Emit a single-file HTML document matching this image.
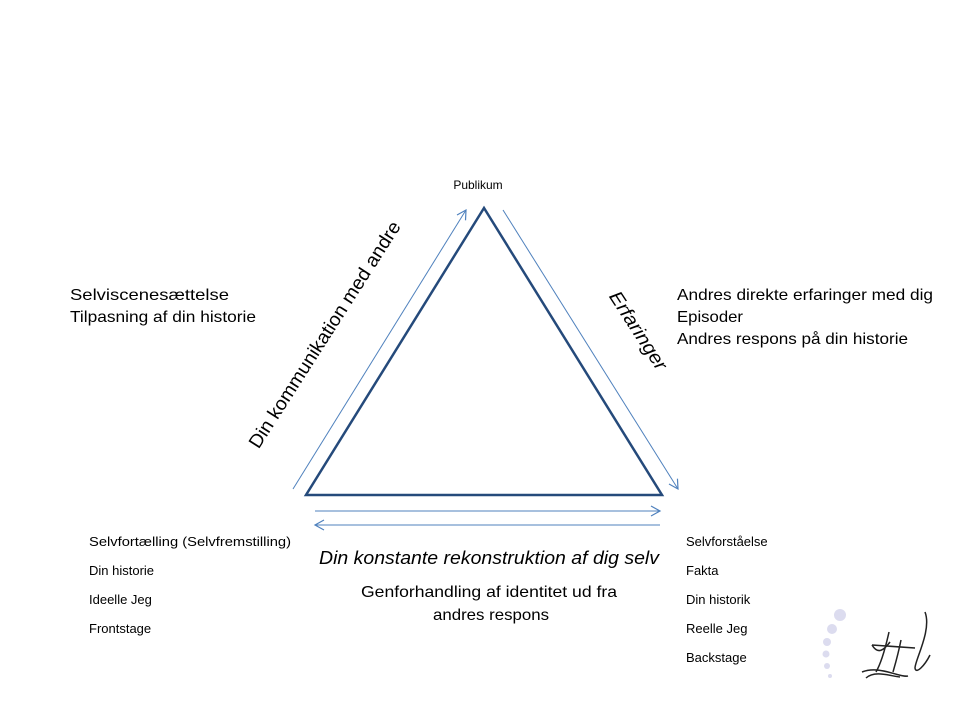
<!DOCTYPE html>
<html><head><meta charset="utf-8"><style>
html,body{margin:0;padding:0;background:#fff;width:960px;height:720px;overflow:hidden}
</style></head><body>
<svg width="960" height="720" viewBox="0 0 960 720" xmlns="http://www.w3.org/2000/svg" font-family="Liberation Sans, sans-serif">
<defs>
<marker id="ah" markerWidth="12" markerHeight="12" refX="10" refY="6" orient="auto" markerUnits="userSpaceOnUse">
<path d="M1,1 L10,6 L1,11" fill="none" stroke="#4f81bd" stroke-width="1.2"/>
</marker>
</defs>
<polygon points="484,208 306,495 662,495" fill="none" stroke="#254a7b" stroke-width="2.5" stroke-linejoin="miter"/>
<line x1="293" y1="489" x2="466" y2="210" stroke="#4f81bd" stroke-width="1" marker-end="url(#ah)"/>
<line x1="503" y1="210" x2="678" y2="489" stroke="#4f81bd" stroke-width="1" marker-end="url(#ah)"/>
<line x1="315" y1="511" x2="660" y2="511" stroke="#4f81bd" stroke-width="1" marker-end="url(#ah)"/>
<line x1="660" y1="525" x2="315" y2="525" stroke="#4f81bd" stroke-width="1" marker-end="url(#ah)"/>

<text x="478" y="189" font-size="12" text-anchor="middle">Publikum</text>
<text transform="translate(330,338) rotate(-57.4)" font-size="19" text-anchor="middle" textLength="265" lengthAdjust="spacingAndGlyphs">Din kommunikation med andre</text>
<text transform="translate(633,334) rotate(57)" font-size="19" font-style="italic" text-anchor="middle" textLength="90" lengthAdjust="spacingAndGlyphs">Erfaringer</text>

<g font-size="16">
<text x="70" y="300" textLength="159" lengthAdjust="spacingAndGlyphs">Selviscenesættelse</text>
<text x="70" y="322" textLength="186" lengthAdjust="spacingAndGlyphs">Tilpasning af din historie</text>
<text x="677" y="300" textLength="256" lengthAdjust="spacingAndGlyphs">Andres direkte erfaringer med dig</text>
<text x="677" y="322" textLength="66" lengthAdjust="spacingAndGlyphs">Episoder</text>
<text x="677" y="344" textLength="231" lengthAdjust="spacingAndGlyphs">Andres respons på din historie</text>
<text x="489" y="597" text-anchor="middle" textLength="256" lengthAdjust="spacingAndGlyphs">Genforhandling af identitet ud fra</text>
<text x="491" y="620" text-anchor="middle" textLength="116" lengthAdjust="spacingAndGlyphs">andres respons</text>
</g>
<text x="489" y="564" font-size="18" font-style="italic" text-anchor="middle" textLength="340" lengthAdjust="spacingAndGlyphs">Din konstante rekonstruktion af dig selv</text>

<g font-size="13">
<text x="89" y="546" textLength="202" lengthAdjust="spacingAndGlyphs">Selvfortælling (Selvfremstilling)</text>
<text x="89" y="575">Din historie</text>
<text x="89" y="604">Ideelle Jeg</text>
<text x="89" y="633">Frontstage</text>
<text x="686" y="546">Selvforståelse</text>
<text x="686" y="575">Fakta</text>
<text x="686" y="604">Din historik</text>
<text x="686" y="633">Reelle Jeg</text>
<text x="686" y="662">Backstage</text>
</g>

<g fill="#dcdcef">
<circle cx="840" cy="615" r="6"/>
<circle cx="832" cy="629" r="5"/>
<circle cx="827" cy="642" r="4"/>
<circle cx="826" cy="654" r="3.5"/>
<circle cx="827" cy="666" r="3"/>
<circle cx="830" cy="676" r="2"/>
</g>
<g fill="none" stroke="#222" stroke-width="1.5">
<path d="M890,642 C884,650 878,655 872,645 M889,632 C885,650 880,665 876,672"/>
<path d="M901,640 C898,655 895,665 893,672"/>
<path d="M925,612 C932,630 915,660 915,668 C916,675 925,665 930,655"/>
<path d="M872,645 L915,648"/>
<path d="M862,672 C880,665 900,678 908,676 M866,678 C875,670 890,676 900,677"/>
</g>
</svg>
</body></html>
